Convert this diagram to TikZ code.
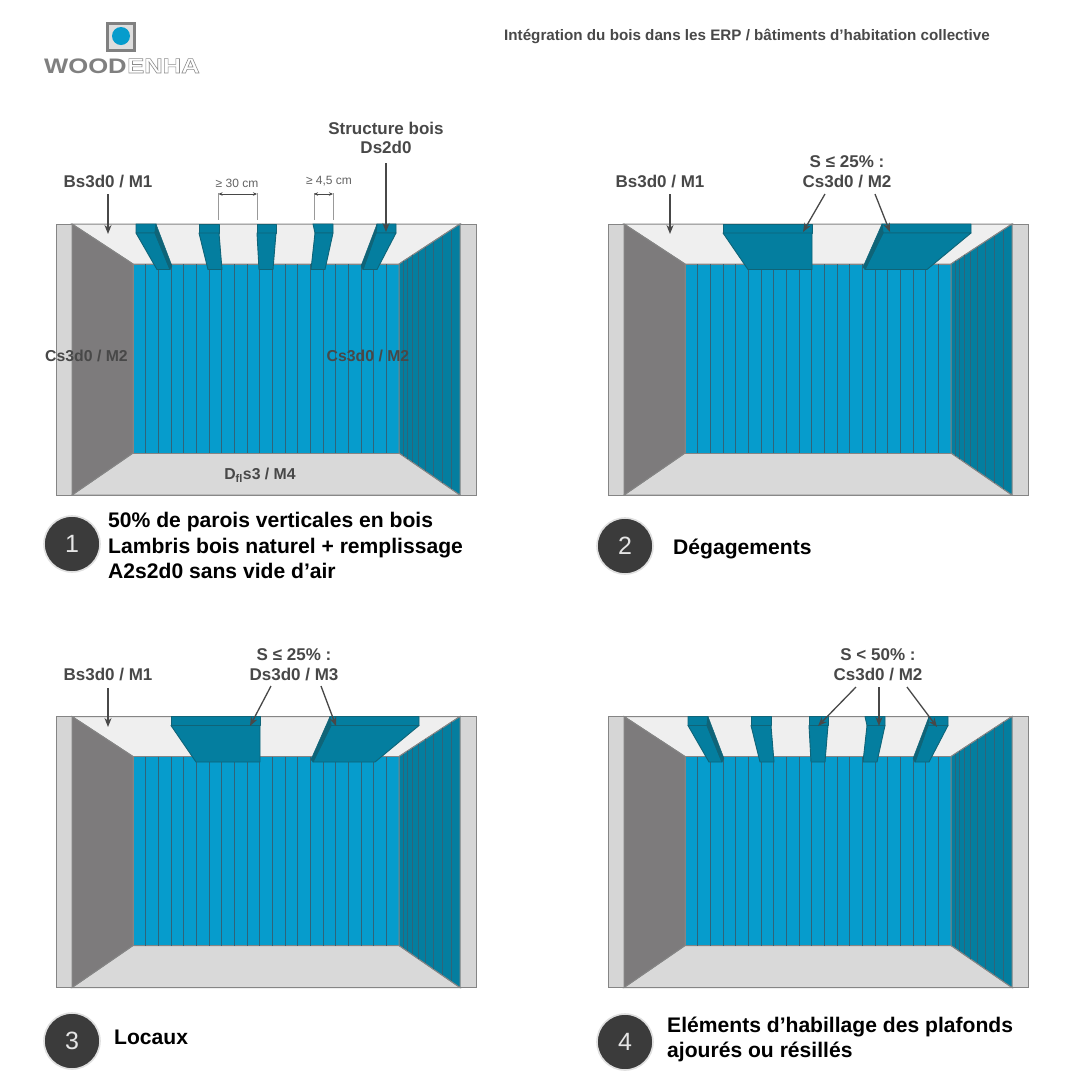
\documentclass[tikz,border=0pt]{standalone}
\usepackage{fontspec}
\setmainfont{Liberation Sans}
\newfontfamily\logofont[FakeStretch=1.22]{Liberation Sans}
\usetikzlibrary{arrows.meta}
\definecolor{bandgrey}{HTML}{D6D6D6}
\definecolor{edgegrey}{HTML}{858585}
\definecolor{ceil}{HTML}{EFEFEF}
\definecolor{floorc}{HTML}{D9D9D9}
\definecolor{wallgrey}{HTML}{7D7B7C}
\definecolor{woodblue}{HTML}{069CCC}
\definecolor{woodteal}{HTML}{047E9F}
\definecolor{wooddark}{HTML}{0F6478}
\definecolor{slatline}{HTML}{2F6479}
\definecolor{labelc}{HTML}{484848}
\definecolor{disc}{HTML}{3B3B3B}
\tikzset{
  x=1pt,y=-1pt,
  roomedge/.style={draw=edgegrey,line width=1pt},
  slat/.style={draw=slatline,line width=1pt},
  beamface/.style={fill=woodteal,draw=wooddark,line width=0.9pt,line join=round},
  beamdark/.style={fill=wooddark,draw=wooddark,line width=0.5pt,line join=round},
  lab/.style={font=\bfseries\fontsize{17}{19}\selectfont,text=labelc,inner sep=0pt,anchor=base},
  wallab/.style={lab,font=\bfseries\fontsize{15.8}{18}\selectfont},
  dimlab/.style={font=\fontsize{12}{14}\selectfont,text=labelc!85,inner sep=0pt,anchor=base},
  captext/.style={font=\bfseries\fontsize{21.1}{23}\selectfont,text=black,inner sep=0pt,anchor=base west},
  pointer/.style={draw=labelc,line width=1.3pt,-{Stealth[length=9pt,width=7pt]}},
  dimline/.style={draw=gray!80,line width=0.7pt},
  dimarrow/.style={draw=labelc,line width=0.7pt,{Stealth[length=4pt,width=3.5pt]}-{Stealth[length=4pt,width=3.5pt]}},
  numdisc/.style={circle,fill=disc,draw=black!12,line width=1.6pt,minimum size=56pt,inner sep=0pt,
    font=\fontsize{25}{26}\selectfont,text=black!10},
}
\newcommand\drawroom{%
  \path[fill=bandgrey,roomedge] (56,224) rectangle (476,495);
  \path[fill=ceil,roomedge] (72,224) -- (460,224) -- (399,264) -- (133,264) -- cycle;
  \path[fill=floorc,roomedge] (72,495) -- (133,453) -- (399,453) -- (460,495) -- cycle;
  \path[fill=wallgrey,roomedge] (72,224) -- (133,264) -- (133,453) -- (72,495) -- cycle;
  \path[fill=woodblue,roomedge] (133,264) rectangle (399,453);
  \foreach \k in {1,...,20} {\draw[slat] ({133+12.67*\k},264) -- ({133+12.67*\k},453);}
  \path[fill=woodteal,roomedge] (399,264) -- (460,224) -- (460,495) -- (399,453) -- cycle;
  \foreach \px in {403,407,412,418,425,433,442,451} {
    \draw[slat] (\px,{264-(\px-399)*40/61}) -- (\px,{453+(\px-399)*42/61});}
}
\newcommand\beam[6]{%
  \path[beamface] (#1,224) -- (#2,224) -- (#4,233) -- (#3,233) -- cycle;
  \path[beamface] (#3,233) -- (#4,233) -- (#6,269.5) -- (#5,269.5) -- cycle;
}
\newcommand\narrowbeams{%
  \beam{136}{156}{136}{155}{157}{170}
  \path[beamdark] (156,224) -- (172,266) -- (170,269.5) -- (155,233) -- cycle;
  \beam{199}{219}{199}{219}{208}{222}
  \beam{257}{276}{257}{276}{259}{273}
  \beam{313}{333}{315}{333}{311}{325}
  \beam{377}{396}{376}{396}{363}{377}
  \path[beamdark] (377,224) -- (361,266) -- (363,269.5) -- (376,233) -- cycle;
}
\newcommand\widebeams{%
  \beam{171}{260}{171}{260}{196}{260}
  \beam{330}{419}{331}{419}{313}{375}
  \path[beamdark] (330,224) -- (311,267) -- (313,269.5) -- (331,233) -- cycle;
}
\begin{document}
\begin{tikzpicture}
\useasboundingbox (0,0) rectangle (1080,1080);
\fill[white] (0,0) rectangle (1080,1080);
% logo
\path[fill=black!13,draw=black!50,line width=3pt] (107.5,23.5) rectangle (134,50);
\fill[woodblue] (121,36) circle (9);
\node[font=\logofont\bfseries\fontsize{21}{22}\selectfont,text=gray,inner sep=0pt,anchor=base west] (logo1) at (44,73) {WOOD};
\node[font=\logofont\bfseries\fontsize{21}{22}\selectfont,inner sep=0pt,anchor=base west] (logo2) at (logo1.base east) {\special{pdf:code q 1 Tr 0.6 w 0.55 G}ENHA\special{pdf:code Q}};
\node[font=\bfseries\fontsize{15.2}{17}\selectfont,text=labelc,inner sep=0pt,anchor=base west] (title) at (504,40) {Intégration du bois dans les ERP / bâtiments d’habitation collective};
% room 1
\begin{scope}
  \drawroom \narrowbeams
  \node[lab] (a1) at (108,187) {Bs3d0 / M1};
  \node[lab] (a2) at (386,134) {Structure bois};
  \node[lab] (a3) at (386,153) {Ds2d0};
  \coordinate (a1s) at (108,194); \coordinate (a1e) at (108,234);
  \coordinate (a3s) at (386,163); \coordinate (a3e) at (386,232);
  \draw[pointer] (a1s) -- (a1e);
  \draw[pointer] (a3s) -- (a3e);
  \node[dimlab] (d1) at (237,187) {≥ 30 cm};
  \node[dimlab] (d2) at (329,184) {≥ 4,5 cm};
  \coordinate (d1a) at (218.5,193); \coordinate (d1b) at (257,193);
  \coordinate (d1c) at (218.5,220); \coordinate (d1d) at (257,220);
  \coordinate (d2a) at (314,193); \coordinate (d2b) at (333,193);
  \coordinate (d2c) at (314,220); \coordinate (d2d) at (333,220);
  \draw[dimline] (d1a) -- (d1c);
  \draw[dimline] (d1b) -- (d1d);
  \draw[dimline] (d2a) -- (d2c);
  \draw[dimline] (d2b) -- (d2d);
  \draw[dimarrow] ([yshift=-1pt]d1a) -- ([yshift=-1pt]d1b);
  \draw[dimarrow] ([yshift=-1pt]d2a) -- ([yshift=-1pt]d2b);
  \node[wallab] (a4) at (86.5,361) {Cs3d0 / M2};
  \node[wallab] (a5) at (368,361) {Cs3d0 / M2};
  \node[wallab] (a6) at (260,479) {D\textsubscript{fl}s3 / M4};
  \node[numdisc] (n1) at (72,544) {1};
  \node[captext] (c1) at (108,527) {50\% de parois verticales en bois};
  \node[captext] (c2) at (108,553) {Lambris bois naturel + remplissage};
  \node[captext] (c3) at (108,578) {A2s2d0 sans vide d’air};
\end{scope}
% room 2
\begin{scope}[shift={(552,0)}]
  \drawroom \widebeams
  \node[lab] (b1) at (108,187) {Bs3d0 / M1};
  \coordinate (b1e) at (118,234);
  \coordinate (b1s) at (118,194);
  \draw[pointer] (b1s) -- (b1e);
  \node[lab] (b2) at (295,167) {S ≤ 25\% :};
  \node[lab] (b3) at (295,187) {Cs3d0 / M2};
  \coordinate (b3s) at (273,194); \coordinate (b3t) at (323,194);
  \coordinate (b3e) at (251,232); \coordinate (b3f) at (338,232);
  \draw[pointer] (b3s) -- (b3e);
  \draw[pointer] (b3t) -- (b3f);
  \node[numdisc] (n2) at (73,546) {2};
  \node[captext] (c4) at (121,554) {Dégagements};
\end{scope}
% room 3
\begin{scope}[shift={(0,492.5)}]
  \drawroom \widebeams
  \node[lab] (e1) at (108,188) {Bs3d0 / M1};
  \coordinate (e1s) at (108,195.5); \coordinate (e1e) at (108,234.5);
  \draw[pointer] (e1s) -- (e1e);
  \node[lab] (e2) at (294,167.5) {S ≤ 25\% :};
  \node[lab] (e3) at (294,187.5) {Ds3d0 / M3};
  \coordinate (e3s) at (271,193.5); \coordinate (e3t) at (321,193.5);
  \coordinate (e3e) at (250,233.5); \coordinate (e3f) at (336,233.5);
  \draw[pointer] (e3s) -- (e3e);
  \draw[pointer] (e3t) -- (e3f);
  \node[numdisc] (n3) at (72,548.5) {3};
  \node[captext] (c5) at (114,552) {Locaux};
\end{scope}
% room 4
\begin{scope}[shift={(552,492.5)}]
  \drawroom \narrowbeams
  \node[lab] (f2) at (326,167.5) {S < 50\% :};
  \node[lab] (f3) at (326,187.5) {Cs3d0 / M2};
  \coordinate (f3s) at (304,194.5); \coordinate (f3t) at (327,194.5); \coordinate (f3u) at (355,194.5);
  \coordinate (f3e) at (266,233.5); \coordinate (f3f) at (327,233.5); \coordinate (f3g) at (385,234.5);
  \draw[pointer] (f3s) -- (f3e);
  \draw[pointer] (f3t) -- (f3f);
  \draw[pointer] (f3u) -- (f3g);
  \node[numdisc] (n4) at (73,549.5) {4};
  \node[captext] (c6) at (115,540) {Eléments d’habillage des plafonds};
  \node[captext] (c7) at (115,565) {ajourés ou résillés};
\end{scope}
\end{tikzpicture}
\end{document}
